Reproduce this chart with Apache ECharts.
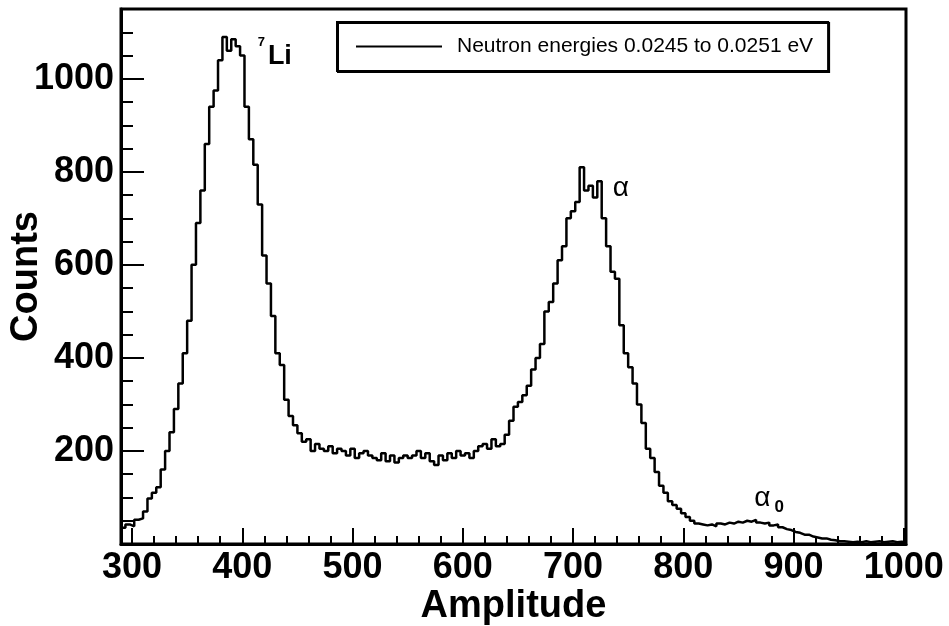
<!DOCTYPE html>
<html>
<head>
<meta charset="utf-8">
<script src="https://cdn.jsdelivr.net/npm/echarts@6/dist/echarts.min.js"></script>
<style>html,body{margin:0;padding:0;background:#fff}#c{width:949px;height:626px}</style>
</head>
<body>
<div id="c"></div>
<script>
// ---- data ----
const seriesName = 'Neutron energies 0.0245 to 0.0251 eV';
const binStart = 290;   // left edge of first bin (Amplitude)
const binWidth = 4;     // bin width (Amplitude)
const counts = [
  35, 42, 38, 52, 55, 70, 98, 110, 122, 160,          // 290-326
  200, 240, 290, 345, 410, 480, 600, 690, 760, 860,   // 330-366
  940, 975, 1040, 1090, 1060, 1085, 1070, 1050, 940, 870, // 370-406
  815, 730, 620, 560, 490, 410, 385, 310, 275, 255,   // 410-446
  238, 220, 225, 200, 215, 205, 200, 210, 195, 205,   // 450-486
  200, 190, 205, 185, 195, 200, 190, 185, 180, 195,   // 490-526
  178, 190, 175, 185, 190, 185, 190, 200, 185, 195,   // 530-566
  178, 170, 190, 180, 195, 185, 200, 190, 195, 185,   // 570-606
  200, 210, 215, 205, 225, 210, 215, 235, 265, 295,   // 610-646
  305, 320, 340, 375, 400, 430, 500, 520, 560, 610,   // 650-686
  640, 700, 715, 735, 810, 760, 770, 745, 780, 700,   // 690-726
  640, 585, 570, 470, 410, 380, 345, 300, 260, 205,   // 730-766
  185, 155, 125, 110, 92, 84, 76, 66, 58, 50,         // 770-806
  44, 42, 40, 42, 38, 44, 42, 46, 44, 48,             // 810-846
  46, 50, 48, 52, 46, 44, 46, 40, 42, 36,             // 850-886
  32, 30, 26, 24, 20, 20, 16, 14, 12, 12,             // 890-926
  9, 8, 6, 6, 5, 4, 5, 4, 6, 4,                       // 930-966
  5, 6, 4, 5, 6, 4, 5, 4                              // 970-998
];
const xMin = 290, xMax = 1002;
const yMin = 0, yMax = 1150;
const xMajorTicks = [300, 400, 500, 600, 700, 800, 900, 1000];
const xMinorTicks = [300, 320, 340, 360, 380, 400, 420, 440, 460, 480, 500, 520, 540, 560, 580, 600,
                     620, 640, 660, 680, 700, 720, 740, 760, 780, 800, 820, 840, 860, 880, 900, 920,
                     940, 960, 980, 1000];
const yMajorTicks = [0, 200, 400, 600, 800, 1000];
const yLabels = [200, 400, 600, 800, 1000];
const yMinorTicks = [50, 100, 150, 250, 300, 350, 450, 500, 550, 650, 700, 750, 850, 900, 950, 1050, 1100];
const xTitle = 'Amplitude';
const yTitle = 'Counts';
// annotation texts anchored in data coordinates
const annotations = [
  { text: '7',  at: [417.4, 1078], size: 13, weight: 'bold' },
  { text: 'Li', at: [434.1, 1047], size: 27, weight: 'bold' },
  { text: 'α',  at: [743.3, 764],  size: 28, weight: 'normal' },
  { text: 'α',  at: [871.8, 98],   size: 28, weight: 'normal' },
  { text: '0',  at: [887.1, 79],   size: 17, weight: 'bold' }
];

// ---- build ----
const FONT = 'Liberation Sans, Arial, Helvetica, sans-serif';
const histPoints = counts.map((c, i) => [binStart + i * binWidth, c]);
histPoints.push([binStart + counts.length * binWidth, counts[counts.length - 1]]);

const chart = echarts.init(document.getElementById('c'), null, { renderer: 'canvas' });
const majorLabel = {
  fontFamily: FONT, fontSize: 36, fontWeight: 'bold', color: '#000',
  formatter: v => String(v)
};

chart.setOption({
  animation: false,
  backgroundColor: '#fff',
  grid: {
    left: 121, right: 43, top: 9, bottom: 82,
    show: true, borderColor: '#000', borderWidth: 3,
    containLabel: false, outerBoundsMode: 'none'
  },
  legend: {
    data: [{ name: seriesName, icon: 'rect', itemStyle: { color: '#000', borderWidth: 0 } }],
    left: 337, top: 22,
    orient: 'horizontal',
    padding: [14, 15, 14, 19],
    itemWidth: 86, itemHeight: 2,
    backgroundColor: '#fff',
    borderColor: '#000', borderWidth: 2,
    shadowColor: '#000', shadowBlur: 0, shadowOffsetX: 1, shadowOffsetY: 1,
    textStyle: { fontFamily: FONT, fontSize: 21, color: '#000', padding: [0, 0, 0, 10] },
    selectedMode: false
  },
  xAxis: [
    {
      type: 'value', min: xMin, max: xMax, position: 'bottom',
      name: xTitle, nameLocation: 'middle', nameGap: 44, nameMoveOverlap: false,
      nameTextStyle: { fontFamily: FONT, fontSize: 38, fontWeight: 'bold', color: '#000' },
      axisLine: { show: true, onZero: false, lineStyle: { color: '#000', width: 3 } },
      axisTick: { show: true, inside: true, length: 16, customValues: xMajorTicks, lineStyle: { color: '#000', width: 2 } },
      axisLabel: Object.assign({ customValues: xMajorTicks, margin: 6 }, majorLabel),
      splitLine: { show: false }
    },
    {
      type: 'value', min: xMin, max: xMax, position: 'bottom',
      axisLine: { show: false, onZero: false },
      axisTick: { show: true, inside: true, length: 8, customValues: xMinorTicks, lineStyle: { color: '#000', width: 2 } },
      axisLabel: { show: false },
      splitLine: { show: false }
    }
  ],
  yAxis: [
    {
      type: 'value', min: yMin, max: yMax, position: 'left',
      name: yTitle, nameLocation: 'middle', nameGap: 75, nameRotate: 90, nameMoveOverlap: false,
      nameTextStyle: { fontFamily: FONT, fontSize: 38, fontWeight: 'bold', color: '#000' },
      axisLine: { show: true, onZero: false, lineStyle: { color: '#000', width: 3 } },
      axisTick: { show: true, inside: true, length: 23, customValues: yMajorTicks, lineStyle: { color: '#000', width: 2 } },
      axisLabel: Object.assign({ customValues: yLabels, margin: 7 }, majorLabel),
      splitLine: { show: false }
    },
    {
      type: 'value', min: yMin, max: yMax, position: 'left',
      axisLine: { show: false, onZero: false },
      axisTick: { show: true, inside: true, length: 12, customValues: yMinorTicks, lineStyle: { color: '#000', width: 2 } },
      axisLabel: { show: false },
      splitLine: { show: false }
    }
  ],
  series: [
    {
      name: seriesName,
      type: 'line',
      xAxisIndex: 0, yAxisIndex: 0,
      step: 'end',
      symbol: 'none',
      data: histPoints,
      lineStyle: { color: '#000', width: 2.5 },
      itemStyle: { color: '#000' },
      clip: true
    },
    {
      name: 'annotations',
      type: 'scatter',
      xAxisIndex: 0, yAxisIndex: 0,
      symbolSize: 0,
      silent: true,
      itemStyle: { color: '#000', opacity: 1 },
      data: annotations.map(a => ({
        value: a.at, name: a.text,
        label: { fontSize: a.size, fontWeight: a.weight, color: '#000', opacity: 1, textBorderWidth: 0 }
      })),
      label: {
        show: true, position: 'inside', formatter: '{b}',
        fontFamily: FONT, color: '#000', opacity: 1, textBorderWidth: 0
      }
    }
  ]
});
</script>
</body>
</html>
